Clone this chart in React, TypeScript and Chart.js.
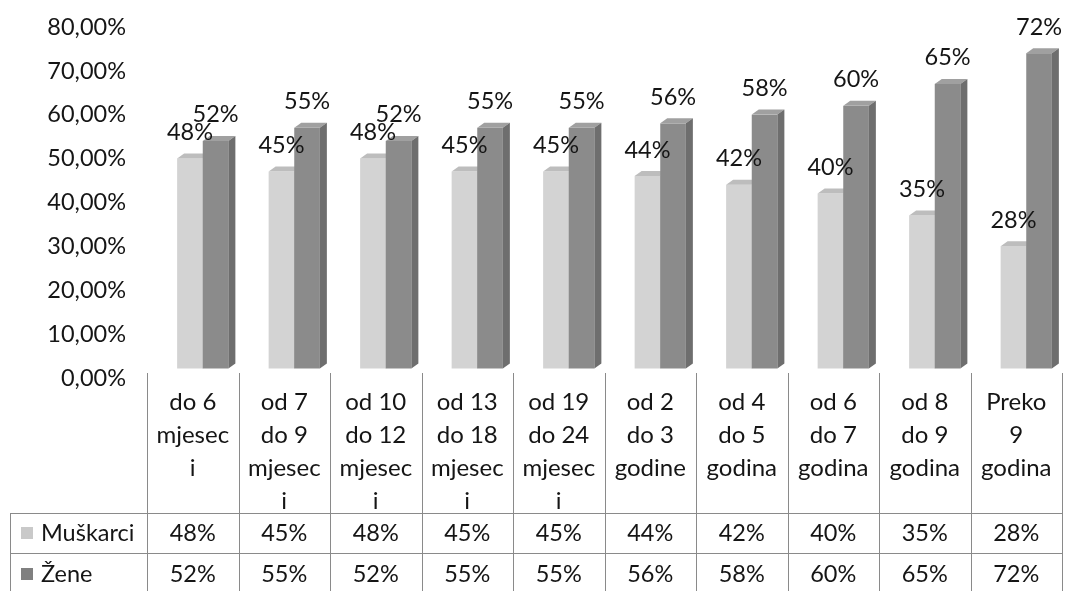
import React, { useEffect, useRef } from "react";
import { Chart, registerables } from "chart.js";

Chart.register(...registerables);

const categories: string[][] = [
  ["do 6", "mjesec", "i"],
  ["od 7", "do 9", "mjesec", "i"],
  ["od 10", "do 12", "mjesec", "i"],
  ["od 13", "do 18", "mjesec", "i"],
  ["od 19", "do 24", "mjesec", "i"],
  ["od 2", "do 3", "godine"],
  ["od 4", "do 5", "godina"],
  ["od 6", "do 7", "godina"],
  ["od 8", "do 9", "godina"],
  ["Preko", "9", "godina"],
];
const seriesNames = ["Muškarci", "Žene"];
const muskarci = [48, 45, 48, 45, 45, 44, 42, 40, 35, 28];
const zene = [52, 55, 52, 55, 55, 56, 58, 60, 65, 72];
const yMin = 0;
const yMax = 80;
const yStep = 10;

const FONT = "Lato, 'Open Sans', sans-serif";
const TEXT = "#151515";
const LINE = "#8a8a8a";
const faces = [
  { front: "#d3d3d3", top: "#bdbdbd", side: "#b0b0b0", legend: "#c9c9c9" },
  { front: "#8b8b8b", top: "#a0a0a0", side: "#6e6e6e", legend: "#808080" },
];
const SX = 10;
const SY = -9;
const DX = 7;
const DY = 5;

const fmtPct = (v: number) => v + "%";

const bars3d = {
  id: "bars3d",
  afterDatasetsDraw(chart: any) {
    const ctx = chart.ctx;
    const metas = chart.data.datasets.map((_: any, i: number) => chart.getDatasetMeta(i));
    const n = chart.data.labels.length;
    ctx.save();
    for (let j = 0; j < n; j++) {
      metas.forEach((meta: any, di: number) => {
        const el = meta.data[j];
        if (!el) return;
        const c = faces[di];
        const l = el.x - el.width / 2 + SX;
        const r = el.x + el.width / 2 + SX;
        const t = el.y + SY;
        const b = el.base + SY;
        ctx.fillStyle = c.front;
        ctx.fillRect(l, t, r - l, b - t);
        ctx.fillStyle = c.top;
        ctx.beginPath();
        ctx.moveTo(l, t);
        ctx.lineTo(l + DX, t - DY);
        ctx.lineTo(r + DX, t - DY);
        ctx.lineTo(r, t);
        ctx.closePath();
        ctx.fill();
        ctx.fillStyle = c.side;
        ctx.beginPath();
        ctx.moveTo(r, t);
        ctx.lineTo(r + DX, t - DY);
        ctx.lineTo(r + DX, b - DY);
        ctx.lineTo(r, b);
        ctx.closePath();
        ctx.fill();
      });
    }
    ctx.fillStyle = TEXT;
    ctx.font = `23.5px ${FONT}`;
    ctx.textAlign = "center";
    ctx.textBaseline = "middle";
    for (let j = 0; j < n; j++) {
      metas.forEach((meta: any, di: number) => {
        const el = meta.data[j];
        if (!el) return;
        const v = chart.data.datasets[di].data[j];
        ctx.fillText(fmtPct(v), el.x + SX, el.y + SY - 26);
      });
    }
    ctx.restore();
  },
  afterDraw(chart: any) {
    const ctx = chart.ctx;
    const xs = chart.scales.x;
    const area = chart.chartArea;
    const n = chart.data.labels.length;
    const step = (area.right - area.left) / n;
    const row1 = 513;
    const row2 = 553;
    const bottom = chart.height;
    ctx.save();
    ctx.strokeStyle = LINE;
    ctx.lineWidth = 1;
    ctx.beginPath();
    for (let i = 0; i <= n; i++) {
      const x = Math.round(area.left + i * step) + 0.5;
      ctx.moveTo(x, area.bottom - 5);
      ctx.lineTo(x, bottom);
    }
    ctx.moveTo(10.5, row1);
    ctx.lineTo(10.5, bottom);
    ctx.moveTo(10, row1 + 0.5);
    ctx.lineTo(area.right, row1 + 0.5);
    ctx.moveTo(10, row2 + 0.5);
    ctx.lineTo(area.right, row2 + 0.5);
    ctx.stroke();

    const rows = [muskarci, zene];
    ctx.font = `23.5px ${FONT}`;
    ctx.textBaseline = "middle";
    rows.forEach((vals, ri) => {
      const cy = ri === 0 ? 533 : 574;
      ctx.fillStyle = faces[ri].legend;
      ctx.fillRect(21, cy - 6, 12, 12);
      ctx.fillStyle = TEXT;
      ctx.textAlign = "left";
      ctx.fillText(seriesNames[ri], 41, cy);
      ctx.textAlign = "center";
      vals.forEach((v, j) => {
        ctx.fillText(fmtPct(v), xs.getPixelForValue(j), cy);
      });
    });
    ctx.restore();
  },
};

export default function App() {
  const ref = useRef<HTMLCanvasElement | null>(null);
  useEffect(() => {
    if (!ref.current) return;
    const chart = new Chart(ref.current, {
      type: "bar",
      data: {
        labels: categories,
        datasets: [
          {
            label: seriesNames[0],
            data: muskarci,
            backgroundColor: "rgba(0,0,0,0)",
            categoryPercentage: 0.56,
            barPercentage: 1,
          },
          {
            label: seriesNames[1],
            data: zene,
            backgroundColor: "rgba(0,0,0,0)",
            categoryPercentage: 0.56,
            barPercentage: 1,
          },
        ],
      },
      options: {
        animation: false,
        responsive: true,
        maintainAspectRatio: false,
        layout: { padding: { top: 0, right: 3, bottom: 0, left: 0 } },
        plugins: {
          legend: { display: false },
          tooltip: { enabled: false },
        },
        scales: {
          x: {
            grid: { display: false, drawTicks: false },
            border: { display: false },
            ticks: {
              color: TEXT,
              font: { family: FONT, size: 24, lineHeight: 1.375 },
              padding: 8,
              maxRotation: 0,
              autoSkip: false,
            },
            afterFit(scale: any) {
              scale.height = 213;
            },
          },
          y: {
            min: yMin,
            max: yMax,
            grid: {
              display: true,
              drawOnChartArea: false,
              drawTicks: true,
              tickLength: 8,
              color: "rgba(0,0,0,0)",
            },
            border: { display: false },
            ticks: {
              stepSize: yStep,
              color: TEXT,
              font: { family: FONT, size: 23.5 },
              padding: 13,
              callback: (v: any) => Number(v).toFixed(2).replace(".", ",") + "%",
            },
            afterFit(scale: any) {
              scale.width = 147;
            },
          },
        },
      },
      plugins: [bars3d],
    });
    return () => chart.destroy();
  }, []);
  return (
    <div style={{ position: "absolute", left: 0, top: 0, width: 1065, height: 591, background: "#fff" }}>
      <canvas ref={ref} />
    </div>
  );
}
